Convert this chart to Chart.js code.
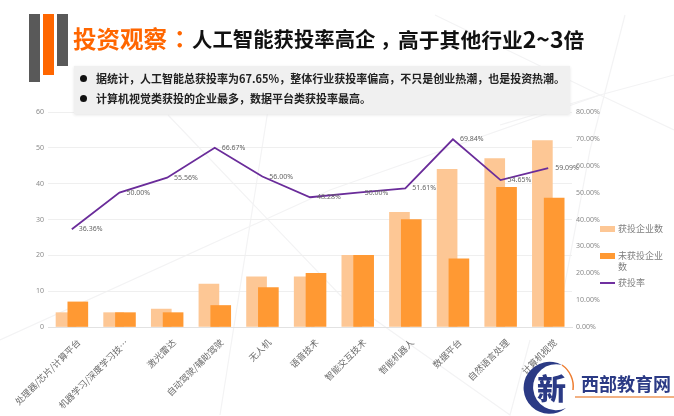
<!DOCTYPE html>
<html>
<head>
<meta charset="utf-8">
<script src="https://cdn.jsdelivr.net/npm/chart.js@4"></script>
<style>
html, body { margin: 0; padding: 0; background: #fff; overflow: hidden; }
body { width: 674px; height: 416px; position: relative; font-family: "Noto Sans CJK SC", sans-serif; }
.abs { position: absolute; white-space: nowrap; }
#bg, #logo { position: absolute; left: 0; top: 0; }
#chart { position: absolute; left: 0; top: 0; }
.bar { position: absolute; top: 14px; width: 11px; }
.title { top: 20px; font-weight: 700; font-size: 20.4px; line-height: 36px; color: #111; }
.title.orange { color: #ff6600; font-size: 23.5px; }
#box { position: absolute; left: 74px; top: 66px; width: 496px; height: 48px; background: #f0f0f0; box-shadow: 0 1px 3px #e4e4e4; }
.dot { position: absolute; left: 80px; width: 7px; height: 7px; border-radius: 50%; background: #111; }
.line { left: 96px; font-size: 11px; font-weight: 700; color: #222; line-height: 14px; }
.swatch { position: absolute; left: 600px; width: 15px; height: 6px; }
.leg { left: 618px; font-size: 9px; line-height: 11px; color: #7f7f7f; }
</style>
</head>
<body>
<svg id="bg" width="674" height="416" fill="none" stroke="#f3f3f4" stroke-width="1.2">
  <path d="M0 340L330 190L600 95L674 75"/>
  <path d="M168 115L340 295L510 415L530 340"/>
  <path d="M268 110L220 415"/>
  <path d="M435 15L600 95L674 130"/>
  <path d="M625 15L590 150L560 310"/>
  <path d="M500 125L600 95"/>
</svg>
<canvas id="chart" width="674" height="416"></canvas>

<div class="bar" style="left:29px;height:68px;background:#595959"></div>
<div class="bar" style="left:43px;height:61px;background:#ff6600"></div>
<div class="bar" style="left:57px;height:52px;background:#595959"></div>
<div class="abs title orange" style="left:73px">投资观察</div>
<div class="abs title orange" style="left:168px;font-family:'Noto Sans CJK TC'">：</div>
<div class="abs title" style="left:192px">人工智能获投率高企</div>
<div class="abs title" style="left:380px">，</div>
<div class="abs title" style="left:398px;font-size:20.8px">高于其他行业<span style="font-size:23px">2~3</span>倍</div>
<div id="box"></div>
<div class="dot" style="top:75px"></div>
<div class="abs line" style="top:71px">据统计，人工智能总获投率为67.65%，整体行业获投率偏高，不只是创业热潮，也是投资热潮。</div>
<div class="dot" style="top:95px"></div>
<div class="abs line" style="top:91px">计算机视觉类获投的企业最多，数据平台类获投率最高。</div>

<div class="swatch" style="top:226px;background:#fdc795"></div>
<div class="abs leg" style="top:223px">获投企业数</div>
<div class="swatch" style="top:253px;background:#ff9933"></div>
<div class="abs leg" style="top:250px">未获投企业<br>数</div>
<div class="swatch" style="top:282px;height:2px;background:#7030a0"></div>
<div class="abs leg" style="top:277px">获投率</div>

<svg id="logo" width="674" height="416">
  <path d="M562 365A26 26 0 1 0 566 408A23 23 0 1 1 562 365Z" fill="#2b3a85"/>
  <path d="M562 365A26 26 0 0 1 573 390" fill="none" stroke="#ee7d31" stroke-width="1.5"/>
  <text x="537" y="400" font-size="29" font-weight="900" fill="#2b3a85" font-family="Noto Sans CJK SC">新</text>
  <text x="581" y="391" font-size="18" font-weight="700" fill="#2b3a85" font-family="Noto Sans CJK SC">西部教育网</text>
  <line x1="575" y1="397" x2="674" y2="397" stroke="#f2b183" stroke-width="2"/>
</svg>

<script>
const categories = ['处理器/芯片/计算平台', '机器学习/深度学习技…', '激光雷达', '自动驾驶/辅助驾驶', '无人机', '语音技术', '智能交互技术', '智能机器人', '数据平台', '自然语言处理', '计算机视觉'];
const fundedCounts = [4, 4, 5, 12, 14, 14, 20, 32, 44, 47, 52];
const unfundedCounts = [7, 4, 4, 6, 11, 15, 20, 30, 19, 39, 36];
const fundedRates = [36.36, 50.00, 55.56, 66.67, 56.00, 48.28, 50.00, 51.61, 69.84, 54.65, 59.09];
const countTicks = [0, 10, 20, 30, 40, 50, 60];

const tickFont = { size: 7, family: '"Noto Sans", "Noto Sans CJK SC", sans-serif' };

// les barres se chevauchent : chaque serie a son axe x cache, decale d'un peu
function shiftedAxis(shift) {
    return { type: 'linear', display: false, offset: false, min: -0.5 - shift, max: categories.length - 0.5 - shift };
}

// etiquettes du taux, a droite de chaque point
const rateLabels = {
    id: 'rateLabels',
    afterDatasetsDraw(chart) {
        const ctx = chart.ctx;
        const meta = chart.getDatasetMeta(0);
        ctx.save();
        ctx.font = '7px "Noto Sans", sans-serif';
        ctx.fillStyle = '#666';
        ctx.textBaseline = 'middle';
        meta.data.forEach((pt, i) => {
            ctx.fillText(fundedRates[i].toFixed(2) + '%', pt.x + 7, pt.y);
        });
        ctx.restore();
    }
};

new Chart(document.getElementById('chart'), {
    type: 'bar',
    data: {
        labels: categories,
        datasets: [
            {
                type: 'line',
                label: '获投率',
                data: fundedRates,
                xAxisID: 'x',
                yAxisID: 'yRate',
                borderColor: '#6a2c9a',
                borderWidth: 1.8,
                pointRadius: 0,
                tension: 0,
                order: 0
            },
            {
                label: '未获投企业数',
                data: unfundedCounts.map((v, i) => ({ x: i, y: v })),
                xAxisID: 'xUnfunded',
                yAxisID: 'y',
                backgroundColor: '#ff9933',
                barThickness: 20,
                grouped: false,
                order: 1
            },
            {
                label: '获投企业数',
                data: fundedCounts.map((v, i) => ({ x: i, y: v })),
                xAxisID: 'xFunded',
                yAxisID: 'y',
                backgroundColor: '#fdc795',
                barThickness: 20,
                grouped: false,
                order: 2
            }
        ]
    },
    options: {
        responsive: false,
        animation: false,
        layout: { padding: { top: 112 } },
        plugins: { legend: { display: false }, tooltip: { enabled: false } },
        scales: {
            x: {
                type: 'category',
                offset: true,
                grid: { display: false },
                border: { color: '#e2e2e2', width: 1 },
                afterFit(scale) { scale.height = 89; },
                ticks: {
                    autoSkip: false,
                    minRotation: 45,
                    maxRotation: 45,
                    padding: 2,
                    labelOffset: 7,
                    color: '#6b6b6b',
                    font: { size: 9, family: '"Noto Sans CJK SC", sans-serif' }
                }
            },
            xFunded: shiftedAxis(-0.122),
            xUnfunded: shiftedAxis(0.126),
            y: {
                position: 'left',
                min: 0,
                max: 60,
                afterFit(scale) { scale.width = 48; },
                afterBuildTicks(scale) { scale.ticks = countTicks.map(v => ({ value: v })); },
                grid: { color: '#efefef', lineWidth: 1, drawTicks: false },
                border: { display: false },
                ticks: { color: '#8a8a8a', padding: 4, font: tickFont }
            },
            yRate: {
                position: 'right',
                min: 0,
                max: 80,
                afterFit(scale) { scale.width = 102; },
                grid: { drawOnChartArea: false, drawTicks: false },
                border: { display: false },
                ticks: {
                    stepSize: 10,
                    color: '#8a8a8a',
                    padding: 4,
                    font: tickFont,
                    callback: v => v.toFixed(2) + '%'
                }
            }
        }
    },
    plugins: [rateLabels]
});
</script>
</body>
</html>
